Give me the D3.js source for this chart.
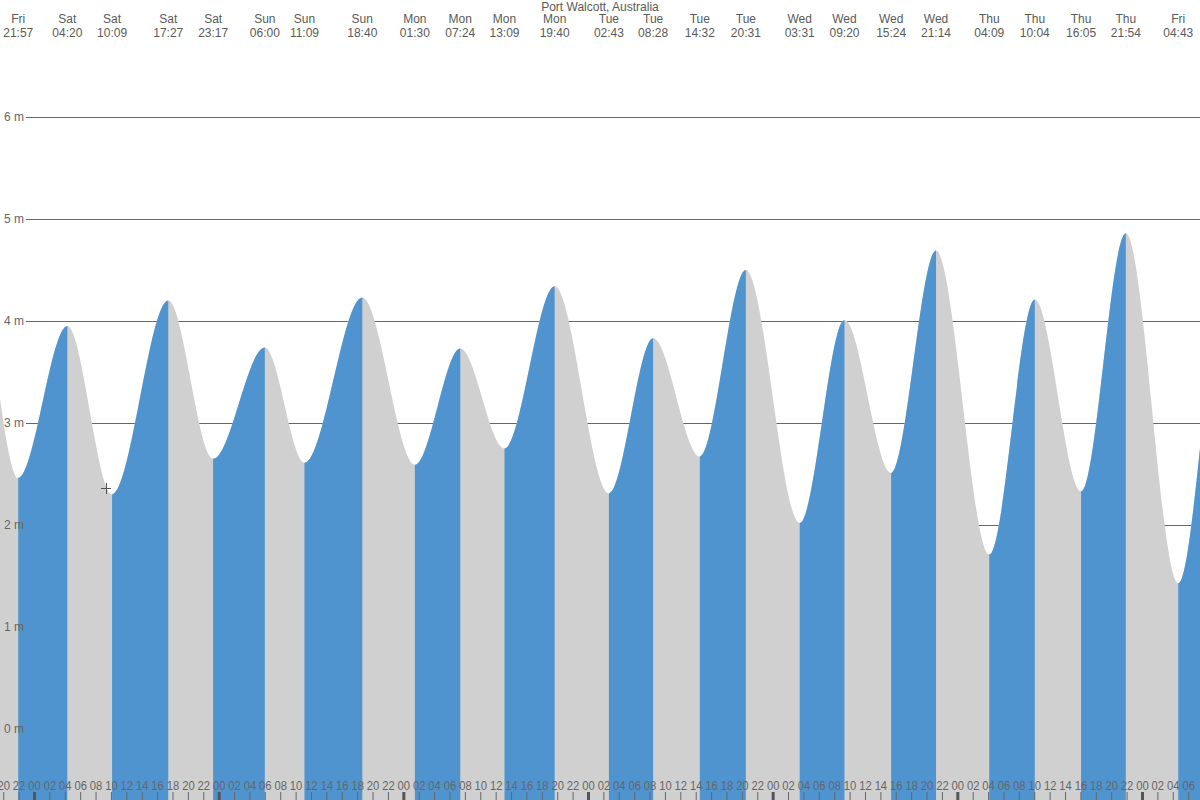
<!DOCTYPE html>
<html><head><meta charset="utf-8">
<script src="https://cdn.jsdelivr.net/npm/d3@7"></script>
<style>
body{margin:0;background:#fff}
svg{display:block}
text{font-family:"Liberation Sans",Arial,sans-serif}
</style>
</head><body>
<svg id="c" width="1200" height="800"></svg>
<script>
const chartTitle = "Port Walcott, Australia";
// tide extremes (first two and last two lie outside the visible window)
const extremeDays = ["Fri","Fri","Fri","Sat","Sat","Sat","Sat","Sun","Sun","Sun","Mon","Mon","Mon","Mon","Tue","Tue","Tue","Tue","Wed","Wed","Wed","Wed","Thu","Thu","Thu","Thu","Fri","Fri","Fri"];
const extremeTimes = ["10:30","16:40","21:57","04:20","10:09","17:27","23:17","06:00","11:09","18:40","01:30","07:24","13:09","19:40","02:43","08:28","14:32","20:31","03:31","09:20","15:24","21:14","04:09","10:04","16:05","21:54","04:43","10:40","17:00"];
const extremeHeights = [2.0,4.3,2.46,3.95,2.30,4.20,2.65,3.74,2.61,4.23,2.59,3.73,2.75,4.34,2.31,3.83,2.67,4.50,2.02,4.01,2.51,4.69,1.71,4.21,2.33,4.86,1.43,4.3,2.0];
const yTickValues = [0,1,2,3,4,5,6];
const yTickUnit = " m";

const W = 1200, H = 800;
const svg = d3.select("#c");

// build dates (week starting Friday)
let dayOffset = 0, prevDay = extremeDays[0];
const data = extremeDays.map((d, i) => {
  if (d !== prevDay) { dayOffset++; prevDay = d; }
  const [hh, mm] = extremeTimes[i].split(":").map(Number);
  return { day: d, time: extremeTimes[i], h: extremeHeights[i], date: new Date(2024, 0, 5 + dayOffset, hh, mm) };
});

const x = d3.scaleTime()
  .domain([new Date(2024,0,5,19,34,54), new Date(2024,0,12,7,32,24)])
  .range([0, W]);
const y = d3.scaleLinear().domain([0, 6]).range([729, 117]);

// gridlines (under the fills)
const grid = svg.append("g").attr("transform", "translate(26,0)")
  .call(d3.axisLeft(y).tickValues(yTickValues).tickSize(-(W - 26)).tickFormat(""));
grid.select(".domain").remove();
grid.selectAll(".tick line").attr("stroke", "#666").attr("shape-rendering", "crispEdges");

const area = d3.area()
  .x(d => x(d.date))
  .y0(H)
  .y1(d => y(d.h))
  .curve(d3.curveMonotoneX);

const defs = svg.append("defs");
// base area grey (falling)
svg.append("path").datum(data).attr("d", area).attr("fill", "#d0d0d0");
// rising segments in blue
for (let i = 0; i < data.length - 1; i++) {
  if (data[i + 1].h > data[i].h) {
    const x0 = x(data[i].date), x1 = x(data[i + 1].date);
    defs.append("clipPath").attr("id", "seg" + i)
      .append("rect").attr("x", x0).attr("y", 0).attr("width", x1 - x0).attr("height", H);
    svg.append("path").datum(data).attr("d", area)
      .attr("fill", "#4f94cf").attr("clip-path", "url(#seg" + i + ")");
  }
}

// y labels on top
const yl = svg.append("g").attr("transform", "translate(24,0)")
  .call(d3.axisLeft(y).tickValues(yTickValues).tickSize(0).tickPadding(0).tickFormat(d => d + yTickUnit));
yl.select(".domain").remove();
yl.selectAll("text").attr("font-family", "Liberation Sans, Arial, sans-serif")
  .attr("font-size", 12).attr("fill", "#666");

// bottom time axis
const xa = svg.append("g").attr("transform", "translate(0," + H + ")")
  .call(d3.axisTop(x).ticks(d3.timeHour.every(2)).tickFormat(d3.timeFormat("%H")).tickSize(8).tickPadding(2));
xa.select(".domain").remove();
xa.selectAll(".tick line").attr("stroke", "#666");
xa.selectAll(".tick").filter(d => d.getHours() === 0).select("line")
  .attr("stroke", "#555").attr("stroke-width", 3);
xa.selectAll("text").attr("font-family", "Liberation Sans, Arial, sans-serif")
  .attr("font-size", 13).attr("fill", "#666")
  .attr("textLength", 12.5).attr("lengthAdjust", "spacingAndGlyphs");

// top labels
svg.append("text").attr("x", 600).attr("y", 11).attr("text-anchor", "middle")
  .attr("font-size", 12).attr("fill", "#5a5a5a").text(chartTitle);
const vis = data.filter(d => x(d.date) >= 0 && x(d.date) <= W);
const topLabels = svg.append("g").selectAll("g").data(vis).join("g")
  .attr("transform", d => "translate(" + x(d.date) + ",0)");
topLabels.append("text").attr("y", 23).attr("text-anchor", "middle").attr("font-size", 12).attr("fill", "#5a5a5a").text(d => d.day);
topLabels.append("text").attr("y", 37).attr("text-anchor", "middle").attr("font-size", 12).attr("fill", "#5a5a5a").text(d => d.time);

// cursor crosshair seen in reference
const cur = svg.append("g").attr("stroke", "#555").attr("stroke-width", 1).attr("shape-rendering", "crispEdges");
cur.append("line").attr("x1", 101).attr("x2", 111).attr("y1", 488.5).attr("y2", 488.5);
cur.append("line").attr("x1", 106.5).attr("x2", 106.5).attr("y1", 483).attr("y2", 494);
</script>
</body></html>
